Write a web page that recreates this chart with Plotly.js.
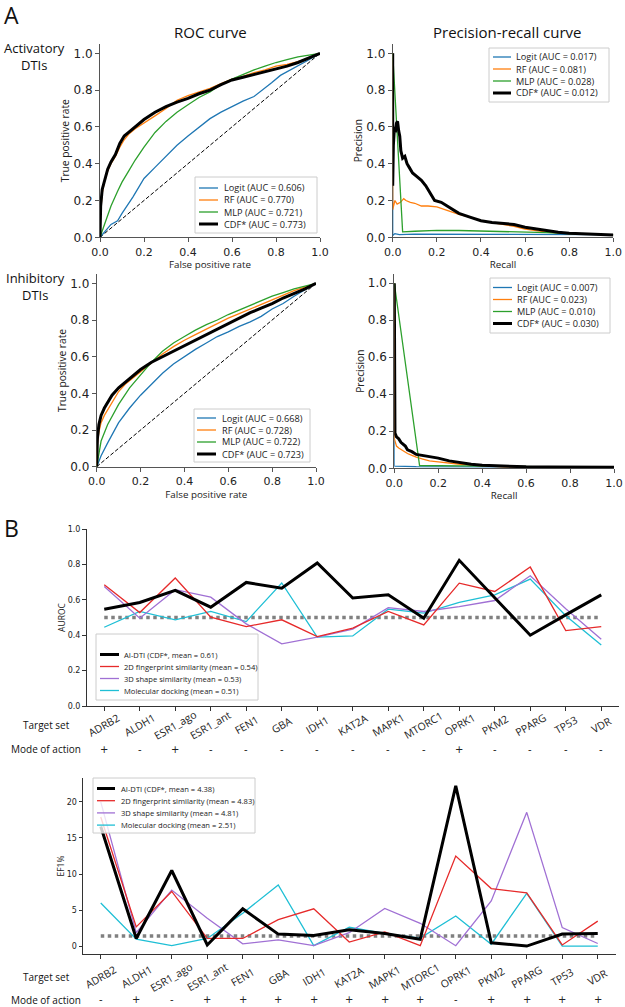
<!DOCTYPE html>
<html><head><meta charset="utf-8">
<script src="https://cdn.plot.ly/plotly-3.0.1.min.js"></script>
<style>html,body{margin:0;padding:0;background:#fff;}#chart{width:625px;height:1007px;}</style>
</head><body><div id="chart"></div>
<script>
// ---------------- DATA ----------------
const rocModels = ['Logit', 'RF', 'MLP', 'CDF*'];
const modelColors = ['#1f77b4', '#ff7f0e', '#2ca02c', '#000000'];
const rocAucAct = [0.606, 0.770, 0.721, 0.773];
const prAucAct = [0.017, 0.081, 0.028, 0.012];
const rocAucInh = [0.668, 0.728, 0.722, 0.723];
const prAucInh = [0.007, 0.023, 0.010, 0.030];
const chanceFpr = [0, 1];
const chanceTpr = [0, 1];

// Activatory ROC
const actLogitFpr = [0,0.02,0.05,0.08,0.1,0.15,0.2,0.25,0.3,0.35,0.4,0.45,0.5,0.55,0.6,0.65,0.7,0.74,0.78,0.82,0.86,0.9,0.95,1.0];
const actLogitTpr = [0,0.03,0.07,0.09,0.13,0.22,0.32,0.38,0.44,0.50,0.55,0.60,0.645,0.68,0.71,0.74,0.765,0.80,0.84,0.88,0.905,0.93,0.965,1.0];
const actRfFpr = [0,0.003,0.01,0.02,0.035,0.05,0.07,0.09,0.11,0.13,0.16,0.2,0.25,0.3,0.35,0.4,0.45,0.5,0.55,0.6,0.65,0.7,0.75,0.8,0.85,0.9,0.95,1.0];
const actRfTpr = [0,0.14,0.24,0.30,0.36,0.40,0.44,0.49,0.53,0.56,0.59,0.62,0.66,0.70,0.745,0.77,0.79,0.81,0.835,0.86,0.875,0.895,0.91,0.93,0.94,0.955,0.975,1.0];
const actMlpFpr = [0,0.02,0.05,0.08,0.1,0.13,0.16,0.2,0.25,0.3,0.35,0.4,0.45,0.5,0.55,0.6,0.65,0.7,0.75,0.8,0.85,0.9,0.95,1.0];
const actMlpTpr = [0,0.07,0.17,0.25,0.30,0.36,0.42,0.49,0.57,0.63,0.68,0.72,0.76,0.79,0.83,0.86,0.885,0.91,0.93,0.95,0.965,0.98,0.99,1.0];
const actCdfFpr = [0,0.003,0.01,0.02,0.035,0.05,0.07,0.09,0.11,0.13,0.16,0.2,0.25,0.3,0.35,0.4,0.45,0.5,0.55,0.6,0.65,0.7,0.75,0.8,0.85,0.9,0.95,1.0];
const actCdfTpr = [0,0.17,0.26,0.31,0.37,0.41,0.45,0.51,0.55,0.57,0.60,0.64,0.68,0.71,0.735,0.755,0.78,0.80,0.83,0.855,0.87,0.885,0.90,0.915,0.93,0.95,0.975,1.0];

// Inhibitory ROC
const inhLogitFpr = [0,0.02,0.05,0.1,0.15,0.2,0.25,0.3,0.35,0.4,0.45,0.5,0.55,0.6,0.65,0.7,0.75,0.8,0.85,0.9,0.95,1.0];
const inhLogitTpr = [0,0.06,0.13,0.24,0.32,0.39,0.45,0.51,0.56,0.60,0.64,0.675,0.71,0.735,0.765,0.79,0.82,0.86,0.89,0.93,0.965,1.0];
const inhRfFpr = [0,0.003,0.01,0.02,0.035,0.05,0.07,0.1,0.13,0.16,0.2,0.25,0.3,0.35,0.4,0.45,0.5,0.55,0.6,0.65,0.7,0.75,0.8,0.85,0.9,0.95,1.0];
const inhRfTpr = [0,0.12,0.19,0.24,0.28,0.31,0.35,0.41,0.45,0.48,0.52,0.57,0.615,0.655,0.69,0.72,0.75,0.78,0.81,0.835,0.86,0.885,0.91,0.935,0.96,0.98,1.0];
const inhMlpFpr = [0,0.02,0.05,0.1,0.15,0.2,0.25,0.3,0.35,0.4,0.45,0.5,0.55,0.6,0.65,0.7,0.75,0.8,0.85,0.9,0.95,1.0];
const inhMlpTpr = [0,0.14,0.23,0.34,0.43,0.50,0.57,0.63,0.675,0.71,0.745,0.775,0.80,0.83,0.855,0.88,0.905,0.93,0.95,0.97,0.985,1.0];
const inhCdfFpr = [0,0.003,0.01,0.02,0.035,0.05,0.07,0.1,0.13,0.16,0.2,0.25,0.3,0.35,0.4,0.45,0.5,0.55,0.6,0.65,0.7,0.75,0.8,0.85,0.9,0.95,1.0];
const inhCdfTpr = [0,0.15,0.23,0.28,0.32,0.35,0.39,0.43,0.46,0.49,0.53,0.57,0.60,0.63,0.66,0.69,0.72,0.75,0.78,0.81,0.84,0.865,0.89,0.92,0.945,0.97,1.0];

// Activatory precision-recall
const actPrLogitRec = [0,0,0.01,0.03,0.1,0.3,0.5,0.7,1.0];
const actPrLogitPre = [1.0,0.01,0.02,0.015,0.017,0.017,0.017,0.016,0.015];
const actPrRfRec = [0,0,0.01,0.02,0.035,0.05,0.06,0.08,0.1,0.13,0.16,0.2,0.25,0.3,0.35,0.4,0.45,0.5,0.55,0.6,0.65,0.7,0.8,0.9,1.0];
const actPrRfPre = [1.0,0.15,0.20,0.18,0.19,0.21,0.20,0.19,0.185,0.17,0.17,0.165,0.145,0.125,0.11,0.09,0.08,0.07,0.06,0.045,0.035,0.028,0.02,0.016,0.013];
const actPrMlpRec = [0,0.045,0.1,0.2,0.3,0.4,0.5,0.6,0.7,0.8,0.9,1.0];
const actPrMlpPre = [1.0,0.03,0.033,0.038,0.037,0.035,0.033,0.03,0.025,0.02,0.016,0.013];
const actPrCdfRec = [0,0,0.003,0.008,0.012,0.017,0.022,0.027,0.032,0.037,0.045,0.055,0.065,0.075,0.09,0.11,0.13,0.15,0.17,0.19,0.22,0.26,0.3,0.35,0.4,0.45,0.5,0.55,0.6,0.65,0.7,0.75,0.8,0.9,1.0];
const actPrCdfPre = [1.0,0.28,0.50,0.60,0.57,0.62,0.63,0.58,0.55,0.47,0.43,0.44,0.40,0.38,0.35,0.33,0.31,0.28,0.24,0.20,0.19,0.16,0.13,0.11,0.09,0.08,0.075,0.07,0.055,0.045,0.035,0.027,0.022,0.017,0.013];

// Inhibitory precision-recall
const inhPrLogitRec = [0,0,0.1,0.5,1.0];
const inhPrLogitPre = [1.0,0.012,0.009,0.008,0.006];
const inhPrRfRec = [0,0,0.005,0.01,0.02,0.04,0.06,0.08,0.1,0.13,0.16,0.2,0.25,0.3,0.4,0.5,0.7,1.0];
const inhPrRfPre = [1.0,0.16,0.14,0.12,0.11,0.095,0.08,0.07,0.06,0.05,0.04,0.035,0.028,0.022,0.013,0.008,0.006,0.005];
const inhPrMlpRec = [0,0.115,0.3,0.5,0.7,1.0];
const inhPrMlpPre = [1.0,0.015,0.013,0.01,0.007,0.005];
const inhPrCdfRec = [0,0,0.003,0.01,0.02,0.03,0.04,0.05,0.06,0.08,0.1,0.13,0.16,0.2,0.25,0.3,0.35,0.4,0.5,0.6,0.7,0.8,0.9,1.0];
const inhPrCdfPre = [1.0,0.25,0.19,0.17,0.16,0.14,0.13,0.12,0.10,0.09,0.075,0.07,0.065,0.055,0.04,0.03,0.022,0.017,0.012,0.008,0.007,0.006,0.006,0.005];

// Panel B
const targetSets = ['ADRB2','ALDH1','ESR1_ago','ESR1_ant','FEN1','GBA','IDH1','KAT2A','MAPK1','MTORC1','OPRK1','PKM2','PPARG','TP53','VDR'];
const aurocMode = ['+','-','+','-','-','-','-','-','-','-','+','-','-','-','-'];
const efMode = ['-','+','-','+','+','+','+','+','+','+','-','+','+','+','+'];
const methodNames = ['AI-DTI', '2D fingerprint similarity', '3D shape similarity', 'Molecular docking'];
const methodColors = ['#000000', '#e62a2a', '#a070d4', '#1fbfd5'];
const aurocMeans = [0.61, 0.54, 0.53, 0.51];
const efMeans = [4.38, 4.83, 4.81, 2.51];
const aurocAIDTI = [0.547,0.585,0.653,0.558,0.698,0.666,0.808,0.61,0.628,0.496,0.823,0.61,0.40,0.515,0.628];
const auroc2D    = [0.685,0.528,0.723,0.502,0.449,0.487,0.392,0.44,0.534,0.458,0.694,0.647,0.785,0.426,0.449];
const auroc3D    = [0.675,0.496,0.657,0.615,0.464,0.351,0.389,0.434,0.556,0.534,0.562,0.596,0.736,0.55,0.377];
const aurocDock  = [0.445,0.534,0.487,0.534,0.477,0.695,0.389,0.396,0.547,0.525,0.585,0.628,0.717,0.51,0.345];
const aurocRandom = [0.5,0.5,0.5,0.5,0.5,0.5,0.5,0.5,0.5,0.5,0.5,0.5,0.5,0.5,0.5];
const efAIDTI = [16.6,1.1,10.5,0.2,5.2,1.7,1.5,2.3,1.8,1.0,22.2,0.5,0.05,1.7,1.8];
const ef2D    = [17.9,2.7,7.6,1.1,1.1,3.7,5.2,0.6,2.0,0.1,12.5,8.0,7.4,0.2,3.5];
const ef3D    = [20.0,1.9,7.8,3.9,0.35,0.9,0.1,1.9,5.25,3.2,0.1,6.3,18.55,2.6,0.4];
const efDock  = [6.0,1.0,0.1,1.1,4.6,8.5,0.1,2.65,1.8,1.15,4.2,0.3,7.35,0.05,0.05];
const efRandom = [1.45,1.45,1.45,1.45,1.45,1.45,1.45,1.45,1.45,1.45,1.45,1.45,1.45,1.45,1.45];

// ---------------- LAYOUT HELPERS ----------------
const W = 625, H = 1007;
const xd = (l, r) => [l / W, r / W];
const yd = (t, b) => [1 - b / H, 1 - t / H];
const px = v => v / W;
const py = v => 1 - v / H;
const SANS = 'Open Sans, sans-serif';
const TICKF = 'DejaVu Sans, sans-serif';

function axA(extra) {
  return Object.assign({
    showline: true, linecolor: '#555', linewidth: 1, ticks: 'outside', ticklen: 4, tickwidth: 1,
    tickcolor: '#555', showgrid: false, zeroline: false, layer: 'below traces', fixedrange: true,
    tickmode: 'linear', tick0: 0, dtick: 0.2, tickformat: '.1f',
    tickfont: {family: TICKF, size: 12, color: '#222'}
  }, extra);
}
function axAx(extra) {
  return axA(Object.assign({tickfont: {family: TICKF, size: 11, color: '#222'}}, extra));
}
function axB(extra) {
  return Object.assign({
    showline: true, linecolor: '#333', linewidth: 1, ticks: 'outside', ticklen: 3.5, tickwidth: 1,
    tickcolor: '#333', showgrid: false, zeroline: false, fixedrange: true, layer: 'below traces',
    tickfont: {family: TICKF, size: 8, color: '#222'}
  }, extra);
}
function axTitle(text, size, standoff) {
  return {text: text, font: {family: SANS, size: size, color: '#222'}, standoff: standoff};
}

const traces = [];
function line(x, y, xa, ya, color, width, name, dash) {
  traces.push({type: 'scatter', mode: 'lines', x: x, y: y, xaxis: xa, yaxis: ya, name: name,
    showlegend: false, hoverinfo: 'skip',
    line: {color: color, width: width, dash: dash || 'solid'}});
}

// ROC / PR panels
const panels = [
  {xa: 'x',  ya: 'y',  sets: [[actLogitFpr, actLogitTpr], [actRfFpr, actRfTpr], [actMlpFpr, actMlpTpr], [actCdfFpr, actCdfTpr]], auc: rocAucAct, chance: true},
  {xa: 'x2', ya: 'y2', sets: [[actPrLogitRec, actPrLogitPre], [actPrRfRec, actPrRfPre], [actPrMlpRec, actPrMlpPre], [actPrCdfRec, actPrCdfPre]], auc: prAucAct},
  {xa: 'x3', ya: 'y3', sets: [[inhLogitFpr, inhLogitTpr], [inhRfFpr, inhRfTpr], [inhMlpFpr, inhMlpTpr], [inhCdfFpr, inhCdfTpr]], auc: rocAucInh, chance: true},
  {xa: 'x4', ya: 'y4', sets: [[inhPrLogitRec, inhPrLogitPre], [inhPrRfRec, inhPrRfPre], [inhPrMlpRec, inhPrMlpPre], [inhPrCdfRec, inhPrCdfPre]], auc: prAucInh}
];
panels.forEach(p => {
  if (p.chance) line(chanceFpr, chanceTpr, p.xa, p.ya, '#000', 1, 'chance', '4px,2px');
  p.sets.forEach((s, i) => {
    line(s[0], s[1], p.xa, p.ya, modelColors[i], i === 3 ? 3 : 1.3,
      rocModels[i] + ' (AUC = ' + p.auc[i].toFixed(3) + ')');
  });
});

// Panel B
const aurocSeries = [aurocAIDTI, auroc2D, auroc3D, aurocDock];
const efSeries = [efAIDTI, ef2D, ef3D, efDock];
const legendB = (means, digits) => methodNames.map((m, i) =>
  i === 0 ? m + ' (CDF*, mean = ' + means[i].toFixed(digits) + ')' : m + ' (mean = ' + means[i].toFixed(digits) + ')');
const aurocLabels = legendB(aurocMeans, 2);
const efLabels = legendB(efMeans, 2);
line(targetSets, aurocRandom, 'x5', 'y5', '#808080', 3.5, 'random', 'dot');
line(targetSets, efRandom, 'x6', 'y6', '#808080', 3.5, 'random', 'dot');
for (let i = 3; i >= 0; i--) {
  line(targetSets, aurocSeries[i], 'x5', 'y5', methodColors[i], i === 0 ? 3 : 1.3, aurocLabels[i]);
  line(targetSets, efSeries[i], 'x6', 'y6', methodColors[i], i === 0 ? 3 : 1.3, efLabels[i]);
}

// ---------------- custom legends ----------------
const shapes = [];
const annotations = [];
function legendBox(box, lx, tx, rows, labels, colors, widths, fsize) {
  shapes.push({type: 'rect', xref: 'paper', yref: 'paper', x0: px(box[0]), x1: px(box[2]), y0: py(box[3]), y1: py(box[1]),
    fillcolor: 'rgba(255,255,255,0.8)', line: {color: '#cccccc', width: 1}, layer: 'above'});
  labels.forEach((t, i) => {
    shapes.push({type: 'line', xref: 'paper', yref: 'paper', x0: px(lx[0]), x1: px(lx[1]), y0: py(rows[i]), y1: py(rows[i]),
      line: {color: colors[i], width: widths[i]}, layer: 'above'});
    annotations.push({xref: 'paper', yref: 'paper', x: px(tx), y: py(rows[i]), xanchor: 'left', yanchor: 'middle',
      text: t, showarrow: false, font: {family: SANS, size: fsize, color: '#222'}});
  });
}
const mkNames = auc => rocModels.map((m, i) => m + ' (AUC = ' + auc[i].toFixed(3) + ')');
const modelWidths = [1.3, 1.3, 1.3, 3];
legendBox([195, 177, 317, 233], [199, 218], 222, [188, 200, 212, 224], mkNames(rocAucAct), modelColors, modelWidths, 9.2);
legendBox([489, 48, 609, 102], [493, 511], 514, [57, 69, 81, 93], mkNames(prAucAct), modelColors, modelWidths, 9.2);
legendBox([194, 409, 310, 462], [197, 216], 220, [418, 430, 442, 454], mkNames(rocAucInh), modelColors, modelWidths, 9.2);
legendBox([490, 278, 610, 333], [493, 512], 515, [287.5, 299.5, 311.5, 323.5], mkNames(prAucInh), modelColors, modelWidths, 9.2);
const methWidths = [3, 1.3, 1.3, 1.3];
legendBox([96, 634, 258, 700], [100, 119], 122, [654.5, 666.5, 678.5, 690.5], aurocLabels, methodColors, methWidths, 7.6);
legendBox([93, 778, 255, 833], [97, 115], 118.5, [788.5, 800.7, 812.9, 825.1], efLabels, methodColors, methWidths, 7.6);

// ---------------- text annotations ----------------
function txt(x, y, t, size, extra) {
  annotations.push(Object.assign({xref: 'paper', yref: 'paper', x: px(x), y: py(y), text: t, showarrow: false,
    xanchor: 'center', yanchor: 'middle', font: {family: SANS, size: size, color: '#111'}}, extra || {}));
}
txt(12, 15, 'A', 23);
txt(11, 528, 'B', 23);
txt(210, 32, 'ROC curve', 15);
txt(507, 32, 'Precision-recall curve', 15);
txt(34, 56.5, 'Activatory<br>DTIs', 13);
txt(35, 287, 'Inhibitory<br>DTIs', 13);
txt(46, 725, 'Target set', 10);
txt(46, 749, 'Mode of action', 10);
txt(46, 977, 'Target set', 10);
txt(46, 999.5, 'Mode of action', 10);
const catFont = {family: SANS, size: 10.5, color: '#222'};
const signFont = {family: TICKF, size: 10, color: '#222'};
targetSets.forEach((c, i) => {
  annotations.push({xref: 'x5', yref: 'paper', x: c, y: py(725), text: c, textangle: -30, showarrow: false,
    xanchor: 'center', yanchor: 'middle', font: catFont});
  annotations.push({xref: 'x5', yref: 'paper', x: c, y: py(749), text: aurocMode[i], showarrow: false,
    xanchor: 'center', yanchor: 'middle', font: signFont});
  annotations.push({xref: 'x6', yref: 'paper', x: c, y: py(977), text: c, textangle: -30, showarrow: false,
    xanchor: 'center', yanchor: 'middle', font: catFont});
  annotations.push({xref: 'x6', yref: 'paper', x: c, y: py(999.5), text: efMode[i], showarrow: false,
    xanchor: 'center', yanchor: 'middle', font: signFont});
});

const layout = {
  width: W, height: H, margin: {l: 0, r: 0, t: 0, b: 0},
  paper_bgcolor: '#fff', plot_bgcolor: 'rgba(0,0,0,0)', showlegend: false,
  xaxis:  axAx({domain: xd(100, 320), range: [0, 1], anchor: 'y', title: axTitle('False positive rate', 9.8, 0)}),
  yaxis:  axA({domain: yd(44.1, 237.3), range: [0, 1.05], anchor: 'x', title: axTitle('True positive rate', 10.2, 1)}),
  xaxis2: axAx({domain: xd(392.7, 613.3), range: [0, 1], anchor: 'y2', title: axTitle('Recall', 9.8, 0)}),
  yaxis2: axA({domain: yd(44.1, 237.3), range: [0, 1.05], anchor: 'x2', title: axTitle('Precision', 10.2, 1)}),
  xaxis3: axAx({domain: xd(96.7, 316), range: [0, 1], anchor: 'y3', title: axTitle('False positive rate', 9.8, 0)}),
  yaxis3: axA({domain: yd(274.2, 466.7), range: [0, 1.05], anchor: 'x3', title: axTitle('True positive rate', 10.2, 1)}),
  xaxis4: axAx({domain: xd(394.3, 614), range: [0, 1], anchor: 'y4', title: axTitle('Recall', 9.8, 0)}),
  yaxis4: axA({domain: yd(274, 468.3), range: [0, 1.05], anchor: 'x4', title: axTitle('Precision', 10.2, 1)}),
  xaxis5: axB({domain: xd(86.5, 619), type: 'category', categoryorder: 'array', categoryarray: targetSets,
               range: [-0.5, 14.5], anchor: 'y5', showticklabels: false}),
  yaxis5: axB({domain: yd(529, 706), range: [0, 1.0], anchor: 'x5', tickmode: 'linear', tick0: 0, dtick: 0.2, tickformat: '.1f',
               title: axTitle('AUROC', 8.5, 0)}),
  xaxis6: axB({domain: xd(83, 615.5), type: 'category', categoryorder: 'array', categoryarray: targetSets,
               range: [-0.5, 14.5], anchor: 'y6', showticklabels: false}),
  yaxis6: axB({domain: yd(778, 954), range: [-1.05, 23.3], anchor: 'x6', tickmode: 'array', tickvals: [0, 5, 10, 15, 20],
               title: axTitle('EF1%', 8.5, 0)}),
  shapes: shapes, annotations: annotations
};

Plotly.newPlot('chart', traces, layout, {displayModeBar: false, staticPlot: true});
</script></body></html>
